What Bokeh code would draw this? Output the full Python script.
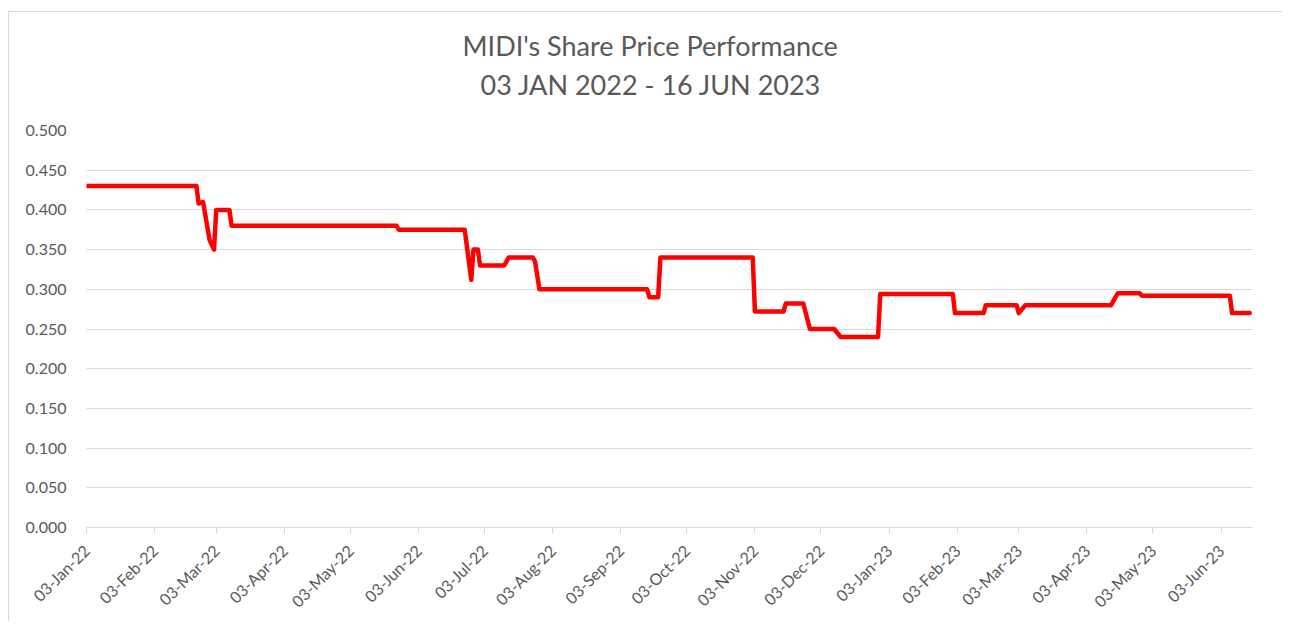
import math
import pandas as pd
from bokeh.plotting import figure
from bokeh.models import (Title, DatetimeTickFormatter, FixedTicker,
                          NumeralTickFormatter, Range1d, ColumnDataSource)
from bokeh.embed import file_html
from bokeh.resources import INLINE

# ---------------- data ----------------
dates = [
    "2022-01-03", "2022-02-22", "2022-02-23", "2022-02-25", "2022-02-28",
    "2022-03-02", "2022-03-03", "2022-03-09", "2022-03-10", "2022-05-24",
    "2022-05-25", "2022-06-24", "2022-06-27", "2022-06-28", "2022-06-30",
    "2022-07-01", "2022-07-12", "2022-07-14", "2022-07-25", "2022-07-26",
    "2022-07-28", "2022-09-15", "2022-09-16", "2022-09-20", "2022-09-21",
    "2022-11-02", "2022-11-03", "2022-11-16", "2022-11-17", "2022-11-25",
    "2022-11-28", "2022-12-09", "2022-12-12", "2022-12-29", "2022-12-30",
    "2023-02-01", "2023-02-02", "2023-02-15", "2023-02-16", "2023-03-02",
    "2023-03-03", "2023-03-06", "2023-04-14", "2023-04-17", "2023-04-27",
    "2023-04-28", "2023-06-07", "2023-06-08", "2023-06-16",
]
prices = [
    0.430, 0.430, 0.408, 0.410, 0.362,
    0.350, 0.400, 0.400, 0.380, 0.380,
    0.375, 0.375, 0.312, 0.350, 0.350,
    0.330, 0.330, 0.340, 0.340, 0.335,
    0.300, 0.300, 0.290, 0.290, 0.340,
    0.340, 0.272, 0.272, 0.282, 0.282,
    0.250, 0.250, 0.240, 0.240, 0.294,
    0.294, 0.270, 0.270, 0.280, 0.280,
    0.270, 0.280, 0.280, 0.295, 0.295,
    0.292, 0.292, 0.270, 0.270,
]
tick_dates = [
    "2022-01-03", "2022-02-03", "2022-03-03", "2022-04-03", "2022-05-03",
    "2022-06-03", "2022-07-03", "2022-08-03", "2022-09-03", "2022-10-03",
    "2022-11-03", "2022-12-03", "2023-01-03", "2023-02-03", "2023-03-03",
    "2023-04-03", "2023-05-03", "2023-06-03",
]
y_ticks = [0.0, 0.05, 0.10, 0.15, 0.20, 0.25, 0.30, 0.35, 0.40, 0.45, 0.50]
title_line1 = "MIDI's Share Price Performance"
title_line2 = "03 JAN 2022 - 16 JUN 2023"

# ---------------- build ----------------
src = ColumnDataSource(dict(x=pd.to_datetime(dates), y=prices))
tick_ms = [pd.Timestamp(d).value // 10**6 for d in tick_dates]

FONT = "Lato"
TXT = "#595959"
GRID = "#d9d9d9"

p = figure(width=1274, height=610, x_axis_type="datetime",
           output_backend="svg", toolbar_location=None,
           x_range=Range1d(pd.Timestamp("2022-01-03"), pd.Timestamp("2023-06-17 07:00")),
           y_range=Range1d(0, 0.5),
           min_border_left=77, min_border_right=31, min_border_top=118,
           min_border_bottom=95,
           styles={"border-top": "1px solid #d9d9d9",
                   "border-left": "1px solid #d9d9d9",
                   "margin-top": "11px", "margin-left": "8px"})
p.title = None
p.outline_line_color = None
p.background_fill_color = "white"
p.border_fill_color = "white"

# spacer between the frame and the subtitle
p.add_layout(Title(text=" ", text_font=FONT, text_font_size="12px",
                   standoff=13), "above")
p.add_layout(Title(text=title_line2, align="left", text_font=FONT,
                   text_font_size="27px", text_font_style="normal",
                   text_color=TXT, standoff=0, offset=394), "above")
p.add_layout(Title(text=title_line1, align="left", text_font=FONT,
                   text_font_size="27px", text_font_style="normal",
                   text_color=TXT, standoff=8, offset=376), "above")

p.line("x", "y", source=src, line_color="#FF0000", line_width=4.5,
       line_join="round", line_cap="round")

# y axis
p.yaxis.ticker = FixedTicker(ticks=y_ticks)
p.yaxis.formatter = NumeralTickFormatter(format="0.000")
p.yaxis.axis_line_color = None
p.yaxis.major_tick_line_color = None
p.yaxis.minor_tick_line_color = None
p.yaxis.major_label_standoff = 14
p.yaxis.major_label_text_font = FONT
p.yaxis.major_label_text_font_size = "16px"
p.yaxis.major_label_text_color = TXT

# x axis
p.xaxis.ticker = FixedTicker(ticks=tick_ms)
fmt = "%d-%b-%y"
p.xaxis.formatter = DatetimeTickFormatter(days=fmt, months=fmt, years=fmt,
                                          hours=fmt, minutes=fmt)
p.xaxis.axis_line_color = GRID
p.xaxis.axis_line_width = 1
p.xaxis.major_tick_line_color = GRID
p.xaxis.major_tick_out = 6
p.xaxis.major_tick_in = 0
p.xaxis.minor_tick_line_color = None
p.xaxis.major_label_orientation = math.pi / 4
p.xaxis.major_label_text_font = FONT
p.xaxis.major_label_text_font_size = "16px"
p.xaxis.major_label_text_color = TXT
p.xaxis.major_label_standoff = 14

p.xgrid.grid_line_color = None
p.ygrid.grid_line_color = GRID
p.ygrid.grid_line_width = 1

open("out.html", "w").write(file_html(p, INLINE))
